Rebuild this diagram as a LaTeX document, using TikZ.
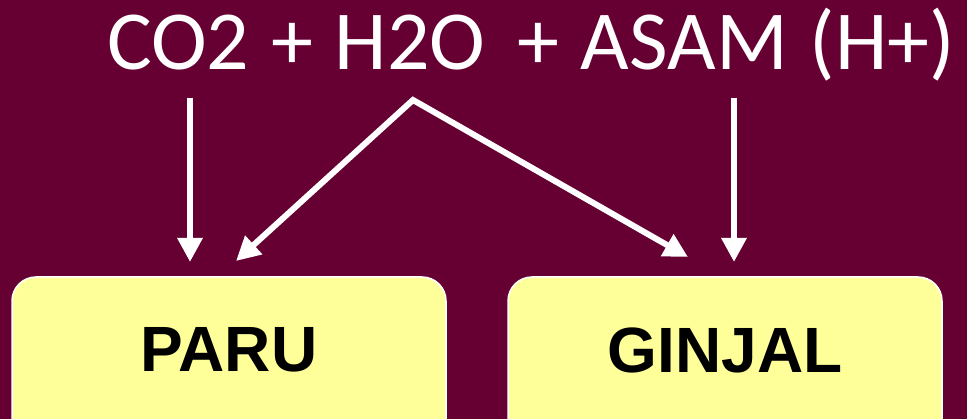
\documentclass[tikz,border=0pt]{standalone}
\usepackage{fontspec}
\setmainfont{Carlito}
\newfontfamily\boxfont{Liberation Sans}
\usetikzlibrary{arrows.meta}
\definecolor{bgmaroon}{HTML}{660033}
\definecolor{boxyellow}{HTML}{FFFF99}
\tikzset{
  organbox/.style={draw=white, line width=1.5pt, fill=boxyellow, rounded corners=24pt},
  organlabel/.style={font=\boxfont\bfseries\fontsize{64}{70}\selectfont, text=black, inner sep=0pt},
  flow/.style={draw=white, line width=6pt, -{Triangle[length=24pt,width=24pt]}},
  flow2/.style={draw=white, line width=6pt, line join=miter, {Triangle[length=24pt,width=24pt]}-{Triangle[length=24pt,width=24pt]}},
}
\begin{document}
\begin{tikzpicture}[x=1pt,y=-1pt]
\fill[bgmaroon] (0,0) rectangle (967,419);
\useasboundingbox (0,0) rectangle (967,419);
\node[anchor=base west, inner sep=0pt, text=white, font=\fontsize{84}{90}\selectfont] (title) at (107,70) {\spaceskip=0.26em CO2 + H2O\hspace{10pt} + ASAM (H+)};
\begin{scope}
\clip (0,0) rectangle (967,419);
\draw[organbox] (12,277) rectangle (446,450);
\draw[organbox] (508,277) rectangle (942,450);
\end{scope}
\node[organlabel] (paru) at (229,350) {PARU};
\node[organlabel] (ginjal) at (725,350) {GINJAL};
\coordinate (co2) at (190,98);
\coordinate (paruA) at (190,262);
\coordinate (apex) at (413,100);
\coordinate (paruB) at (236,261);
\coordinate (ginjalA) at (688,257);
\coordinate (asam) at (734,98);
\coordinate (ginjalB) at (734,262);
\draw[flow] (co2) -- (paruA);
\draw[flow2] (paruB) -- (apex) -- (ginjalA);
\draw[flow] (asam) -- (ginjalB);
\end{tikzpicture}
\end{document}
